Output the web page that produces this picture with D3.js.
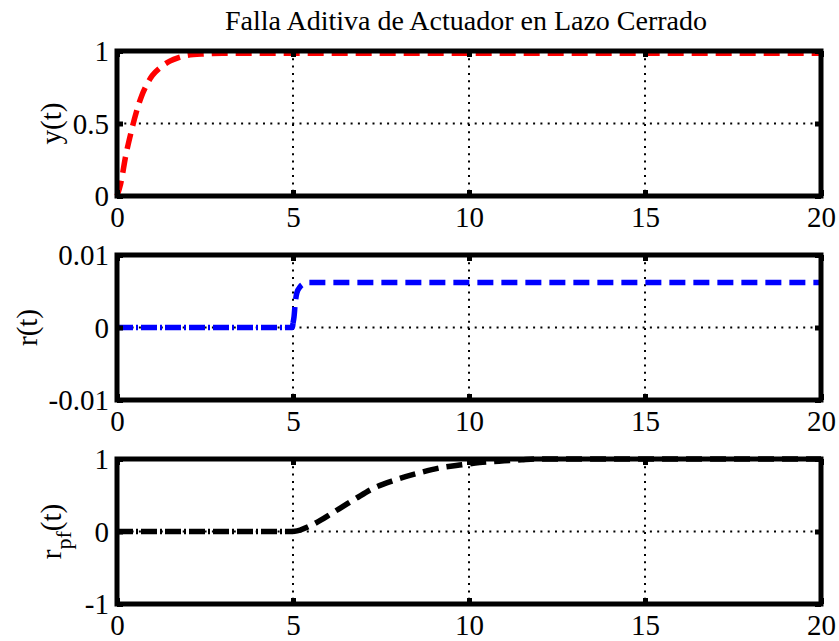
<!DOCTYPE html>
<html>
<head>
<meta charset="utf-8">
<script src="https://cdn.jsdelivr.net/npm/d3@7"></script>
<style>
  html, body { margin: 0; padding: 0; background: #fff; }
  svg { display: block; }
  text { font-family: "Liberation Serif", "Times New Roman", serif; fill: #000; }
</style>
</head>
<body>
<svg id="chart" width="839" height="641"></svg>
<script>
// Closed-loop additive actuator fault: output y(t), residual r(t), filtered residual r_pf(t)
const titleText = "Falla Aditiva de Actuador en Lazo Cerrado";

const xTicks = [0, 5, 10, 15, 20];
const xTickLabels = ["0", "5", "10", "15", "20"];

// Output y(t)
const tOut = [0, 0.1, 0.25, 0.4, 0.55, 0.7, 0.85, 1.0, 1.25, 1.5, 1.75, 2.0, 2.5, 3, 4, 6, 8, 10, 12, 14, 16, 18, 20];
const yOut = [0, 0.08, 0.28, 0.44, 0.58, 0.69, 0.77, 0.83, 0.89, 0.93, 0.955, 0.97, 0.98, 0.985, 0.985, 0.985, 0.985, 0.985, 0.985, 0.985, 0.985, 0.985, 0.985];
const yOutTicks = [0, 0.5, 1];
const yOutTickLabels = ["0", "0.5", "1"];

// Residual r(t)
const tRes = [0, 1, 2, 3, 4, 4.98, 5.0, 5.03, 5.06, 5.11, 5.2, 5.3, 5.45, 6, 8, 10, 12, 14, 16, 18, 20];
const rRes = [0, 0, 0, 0, 0, 0, 0.0006, 0.0015, 0.0032, 0.0048, 0.0056, 0.006, 0.0062, 0.0062, 0.0062, 0.0062, 0.0062, 0.0062, 0.0062, 0.0062, 0.0062];
const rResTicks = [-0.01, 0, 0.01];
const rResTickLabels = ["-0.01", "0", "0.01"];

// Filtered residual r_pf(t)
const tPf = [0, 1, 2, 3, 4, 5, 5.2, 5.5, 5.8, 6.1, 6.4, 6.8, 7.3, 7.9, 8.6, 9.2, 9.8, 10.3, 11, 11.5, 12, 13, 14, 16, 18, 20];
const rPf = [0, 0, 0, 0, 0, 0, 0.02, 0.08, 0.16, 0.25, 0.34, 0.46, 0.60, 0.71, 0.81, 0.88, 0.92, 0.95, 0.975, 0.99, 1, 1, 1, 1, 1, 1];
const rPfTicks = [-1, 0, 1];
const rPfTickLabels = ["-1", "0", "1"];

const faultTime = 5;

const svg = d3.select("#chart");
svg.append("rect").attr("width", 839).attr("height", 641).attr("fill", "#fff");

const left = 117, right = 821;
const panelH = 145;
const x = d3.scaleLinear().domain([0, 20]).range([left, right]);

const FONT = 29;

svg.append("text")
  .attr("x", 466).attr("y", 30)
  .attr("text-anchor", "middle")
  .style("font-size", "28px")
  .text(titleText);

const panels = [
  { top: 51, t: tOut, v: yOut, domain: [0, 1], ticks: yOutTicks, labels: yOutTickLabels,
    color: "#ff0000", split: false, ylabelX: 61, ylabel: [{ s: "y(t)" }] },
  { top: 255, t: tRes, v: rRes, domain: [-0.01, 0.01], ticks: rResTicks, labels: rResTickLabels,
    color: "#0000ff", split: true, ylabelX: 37, ylabel: [{ s: "r(t)" }] },
  { top: 459, t: tPf, v: rPf, domain: [-1, 1], ticks: rPfTicks, labels: rPfTickLabels,
    color: "#000000", split: true, ylabelX: 61, ylabel: [{ s: "r" }, { s: "pf", sub: true }, { s: "(t)" }] }
];

panels.forEach(p => {
  const bottom = p.top + panelH;
  const y = d3.scaleLinear().domain(p.domain).range([bottom, p.top]);
  const g = svg.append("g");

  // dotted grid at interior ticks
  const gx = xTicks.filter(d => d > 0 && d < 20);
  g.selectAll(".vgrid").data(gx).join("line")
    .attr("x1", d => x(d)).attr("x2", d => x(d))
    .attr("y1", p.top).attr("y2", bottom)
    .attr("stroke", "#000").attr("stroke-width", 2)
    .attr("stroke-dasharray", "2,5.3");
  const gy = p.ticks.slice(1, -1);
  g.selectAll(".hgrid").data(gy).join("line")
    .attr("x1", left).attr("x2", right)
    .attr("y1", d => y(d)).attr("y2", d => y(d))
    .attr("stroke", "#000").attr("stroke-width", 2)
    .attr("stroke-dasharray", "2,5.3");

  // data line
  const pts = p.t.map((tt, i) => [tt, p.v[i]]);
  const line = d3.line().x(d => x(d[0])).y(d => y(d[1])).curve(d3.curveMonotoneX);
  const sw = 5.5;
  if (p.split) {
    const pre = pts.filter(d => d[0] <= faultTime);
    const post = pts.filter(d => d[0] >= faultTime);
    g.append("path").attr("d", line(pre))
      .attr("fill", "none").attr("stroke", p.color).attr("stroke-width", sw)
      .attr("stroke-dasharray", "16,3,2,3");
    g.append("path").attr("d", line(post))
      .attr("fill", "none").attr("stroke", p.color).attr("stroke-width", sw)
      .attr("stroke-dasharray", "16,8");
  } else {
    g.append("path").attr("d", line(pts))
      .attr("fill", "none").attr("stroke", p.color).attr("stroke-width", sw)
      .attr("stroke-dasharray", "16,8");
  }

  // axes with inward ticks
  const fmtX = d => xTickLabels[xTicks.indexOf(d)];
  const fmtY = d => p.labels[p.ticks.indexOf(d)];

  const axB = g.append("g").attr("transform", `translate(0,${bottom})`)
    .call(d3.axisBottom(x).tickValues(xTicks).tickFormat(fmtX).tickSizeInner(-6).tickSizeOuter(0).tickPadding(10));
  const axT = g.append("g").attr("transform", `translate(0,${p.top})`)
    .call(d3.axisTop(x).tickValues(xTicks).tickFormat("").tickSizeInner(-6).tickSizeOuter(0));
  const axL = g.append("g").attr("transform", `translate(${left},0)`)
    .call(d3.axisLeft(y).tickValues(p.ticks).tickFormat(fmtY).tickSizeInner(-6).tickSizeOuter(0).tickPadding(8));
  const axR = g.append("g").attr("transform", `translate(${right},0)`)
    .call(d3.axisRight(y).tickValues(p.ticks).tickFormat("").tickSizeInner(-6).tickSizeOuter(0));

  [axB, axT, axL, axR].forEach(a => {
    a.select(".domain").remove();
    a.selectAll(".tick line").attr("stroke", "#000").attr("stroke-width", 5);
    a.selectAll("text")
      .style("font-family", '"Liberation Serif", "Times New Roman", serif')
      .style("font-size", FONT + "px")
      .attr("fill", "#000");
  });
  axL.selectAll("text").attr("dy", "0.34em");

  // frame
  g.append("rect")
    .attr("x", left).attr("y", p.top)
    .attr("width", right - left).attr("height", panelH)
    .attr("fill", "none").attr("stroke", "#000").attr("stroke-width", 5);

  // y label
  const cy = (p.top + bottom) / 2;
  const lab = g.append("text")
    .attr("transform", `translate(${p.ylabelX},${cy}) rotate(-90)`)
    .attr("text-anchor", "middle")
    .style("font-size", FONT + "px");
  p.ylabel.forEach((part, i) => {
    const ts = lab.append("tspan").text(part.s);
    if (part.sub) ts.attr("dy", 10).style("font-size", "22px");
    else if (i > 0 && p.ylabel[i - 1].sub) ts.attr("dy", -10);
  });
});
</script>
</body>
</html>
